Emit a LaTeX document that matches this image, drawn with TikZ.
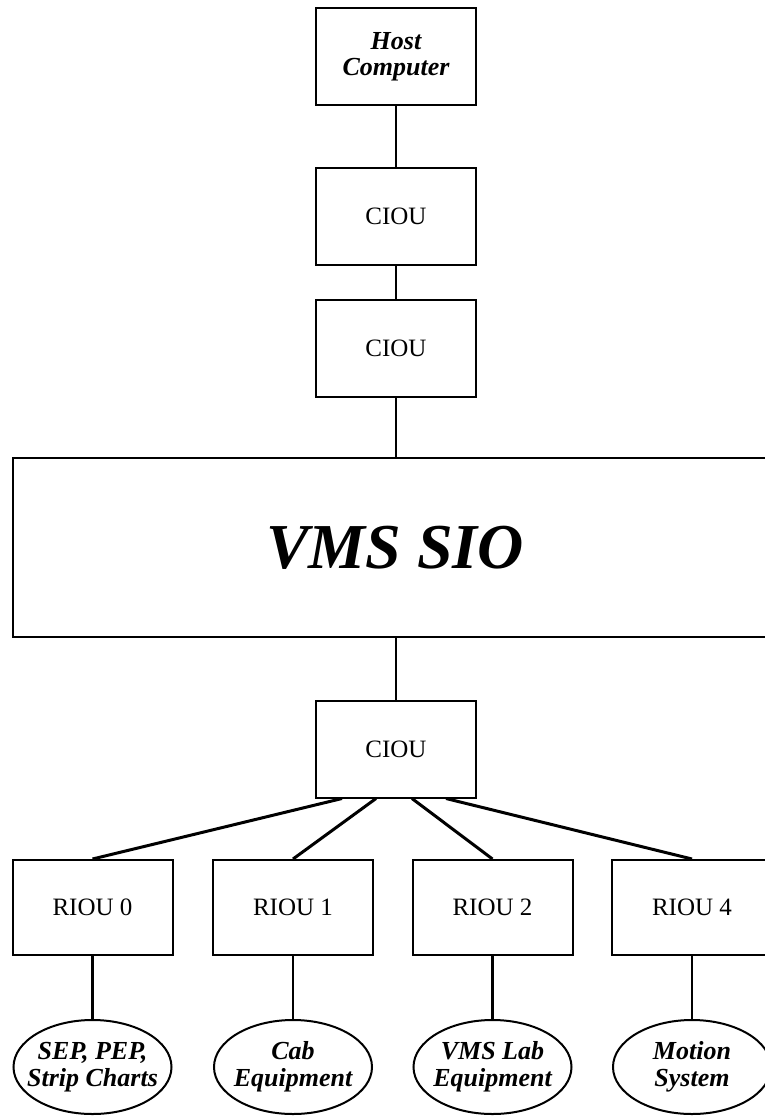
\documentclass[tikz,border=0pt]{standalone}
\usepackage{fontspec}
\setmainfont{Liberation Serif}
\usetikzlibrary{shapes.geometric}

\begin{document}
\begin{tikzpicture}[x=0.5pt, y=-0.5pt,
    unitbox/.style={draw, line width=1pt, minimum width=80pt, minimum height=48.5pt,
      inner sep=0pt, align=center, font=\fontsize{12.5}{13}\selectfont},
    hostbox/.style={unitbox, font=\fontsize{13}{13}\selectfont\bfseries\itshape},
    device/.style={draw, ellipse, line width=1pt, minimum width=79pt, minimum height=47pt,
      inner sep=-6pt, align=center, font=\fontsize{13}{13.5}\selectfont\bfseries\itshape},
    link/.style={line width=1.1pt}]
    \useasboundingbox (0, 0) rectangle (765, 1116);

    \node (host) at (396, 56.5) [hostbox] {Host\\Computer};
    \node (ciouA) at (396, 216) [unitbox] {CIOU};
    \node (ciouB) at (396, 348.5) [unitbox] {CIOU};
    \node (sio) at (395, 547.5) [draw, line width=1pt, minimum width=382pt, minimum height=89.5pt,
      font=\fontsize{32}{32}\selectfont\bfseries\itshape] {VMS SIO};
    \node (ciouC) at (396, 749) [unitbox] {CIOU};

    \node (riou0) at (92.5, 907.5) [unitbox, minimum height=47.5pt] {RIOU 0};
    \node (riou1) at (293, 907.5) [unitbox, minimum height=47.5pt] {RIOU 1};
    \node (riou2) at (492.5, 907.5) [unitbox, minimum height=47.5pt] {RIOU 2};
    \node (riou4) at (692, 907.5) [unitbox, minimum height=47.5pt] {RIOU 4};

    \node (sep) at (92.5, 1067) [device] {SEP, PEP,\\Strip Charts};
    \node (cab) at (293, 1067) [device] {Cab\\Equipment};
    \node (lab) at (492.5, 1067) [device] {VMS Lab\\Equipment};
    \node (motion) at (692, 1067) [device] {Motion\\System};

    \draw [link] (host) -- (ciouA);
    \draw [link] (ciouA) -- (ciouB);
    \draw [link] (ciouB) -- (ciouB |- sio.north);
    \draw [link] (ciouC |- sio.south) -- (ciouC);

    \draw [line width=1.5pt] ([xshift=-27pt]ciouC.south) -- (riou0.north);
    \draw [line width=1.5pt] ([xshift=-10pt]ciouC.south) -- (riou1.north);
    \draw [line width=1.5pt] ([xshift=8pt]ciouC.south) -- (riou2.north);
    \draw [line width=1.5pt] ([xshift=25pt]ciouC.south) -- (riou4.north);

    \draw [link] (riou0) -- (sep);
    \draw [link] (riou1) -- (cab);
    \draw [link] (riou2) -- (lab);
    \draw [link] (riou4) -- (motion);
  \end{tikzpicture}
\end{document}
